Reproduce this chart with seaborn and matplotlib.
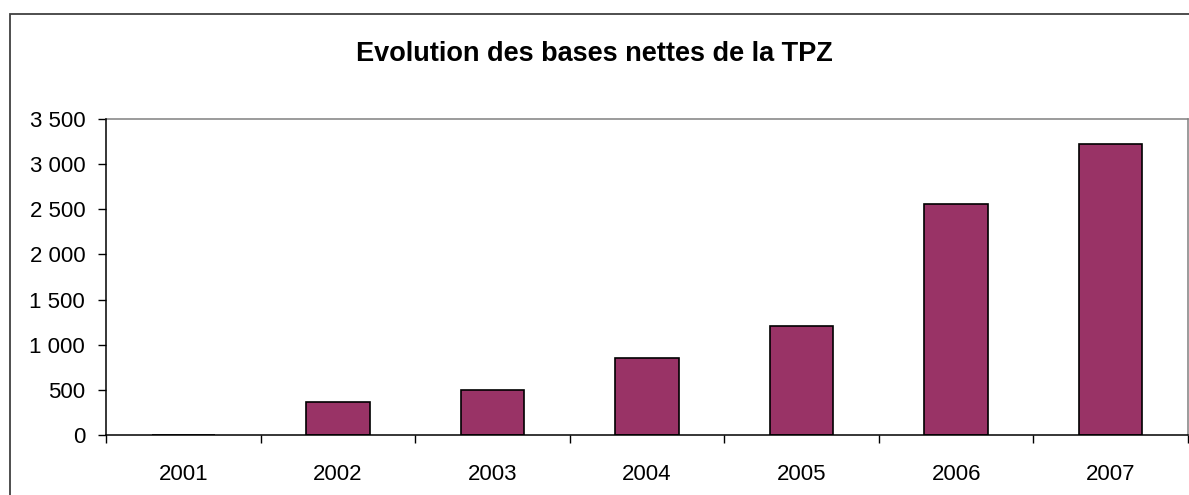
import numpy as np
import pandas as pd
import seaborn as sns
import matplotlib.pyplot as plt
from matplotlib.patches import Rectangle

# data
years = ['2001', '2002', '2003', '2004', '2005', '2006', '2007']
bases = [0, 370, 498, 849, 1207, 2555, 3228]
y_ticks = [0, 500, 1000, 1500, 2000, 2500, 3000, 3500]
y_labels = ['0', '500', '1 000', '1 500', '2 000', '2 500', '3 000', '3 500']

df = pd.DataFrame({'annee': years, 'base': bases})

sns.set_style('white')
plt.rcParams['font.family'] = ['Liberation Sans', 'DejaVu Sans']
plt.rcParams['text.color'] = 'black'
plt.rcParams['xtick.color'] = 'black'
plt.rcParams['ytick.color'] = 'black'

fig = plt.figure(figsize=(11.89, 4.95), dpi=100)
ax = fig.add_axes([106 / 1189, 1 - 435 / 495, (1188 - 106) / 1189, (435 - 119) / 495])

sns.barplot(data=df, x='annee', y='base', color='#993366', saturation=1,
            width=0.41, edgecolor='black', linewidth=1.2, ax=ax)

ax.set_xlim(-0.5, 6.5)
ax.set_ylim(0, 3500)
ax.set_yticks(y_ticks)
ax.set_yticklabels(y_labels)
ax.set_xlabel('')
ax.set_ylabel('')

# ticks between categories, like Excel
ax.set_xticks(np.arange(-0.5, 7, 1), minor=True)
ax.tick_params(axis='x', which='major', length=0, pad=21, labelsize=16, labelcolor='black')
ax.tick_params(axis='x', which='minor', bottom=True, length=6, width=1, color='black', direction='out')
ax.tick_params(axis='y', length=6, width=1, color='black', direction='out', pad=9,
               labelsize=16, left=True, labelcolor='black')

for s in ['left', 'bottom']:
    ax.spines[s].set_color('black')
    ax.spines[s].set_linewidth(1.1)
    ax.spines[s].set_zorder(5)
for s in ['top', 'right']:
    ax.spines[s].set_visible(True)
    ax.spines[s].set_color('#808080')
    ax.spines[s].set_linewidth(1.1)

fig.text(0.5, 1 - 61 / 495, 'Evolution des bases nettes de la TPZ',
         ha='center', va='baseline', fontsize=19.5, fontweight='bold', color='black')

# outer chart frame
fig.patches.append(Rectangle((10 / 1189, -0.05), 1.1, 1 - 14 / 495 + 0.05,
                             transform=fig.transFigure, fill=False,
                             edgecolor='#404040', linewidth=1.3))

fig.savefig('out.png', dpi=100)
